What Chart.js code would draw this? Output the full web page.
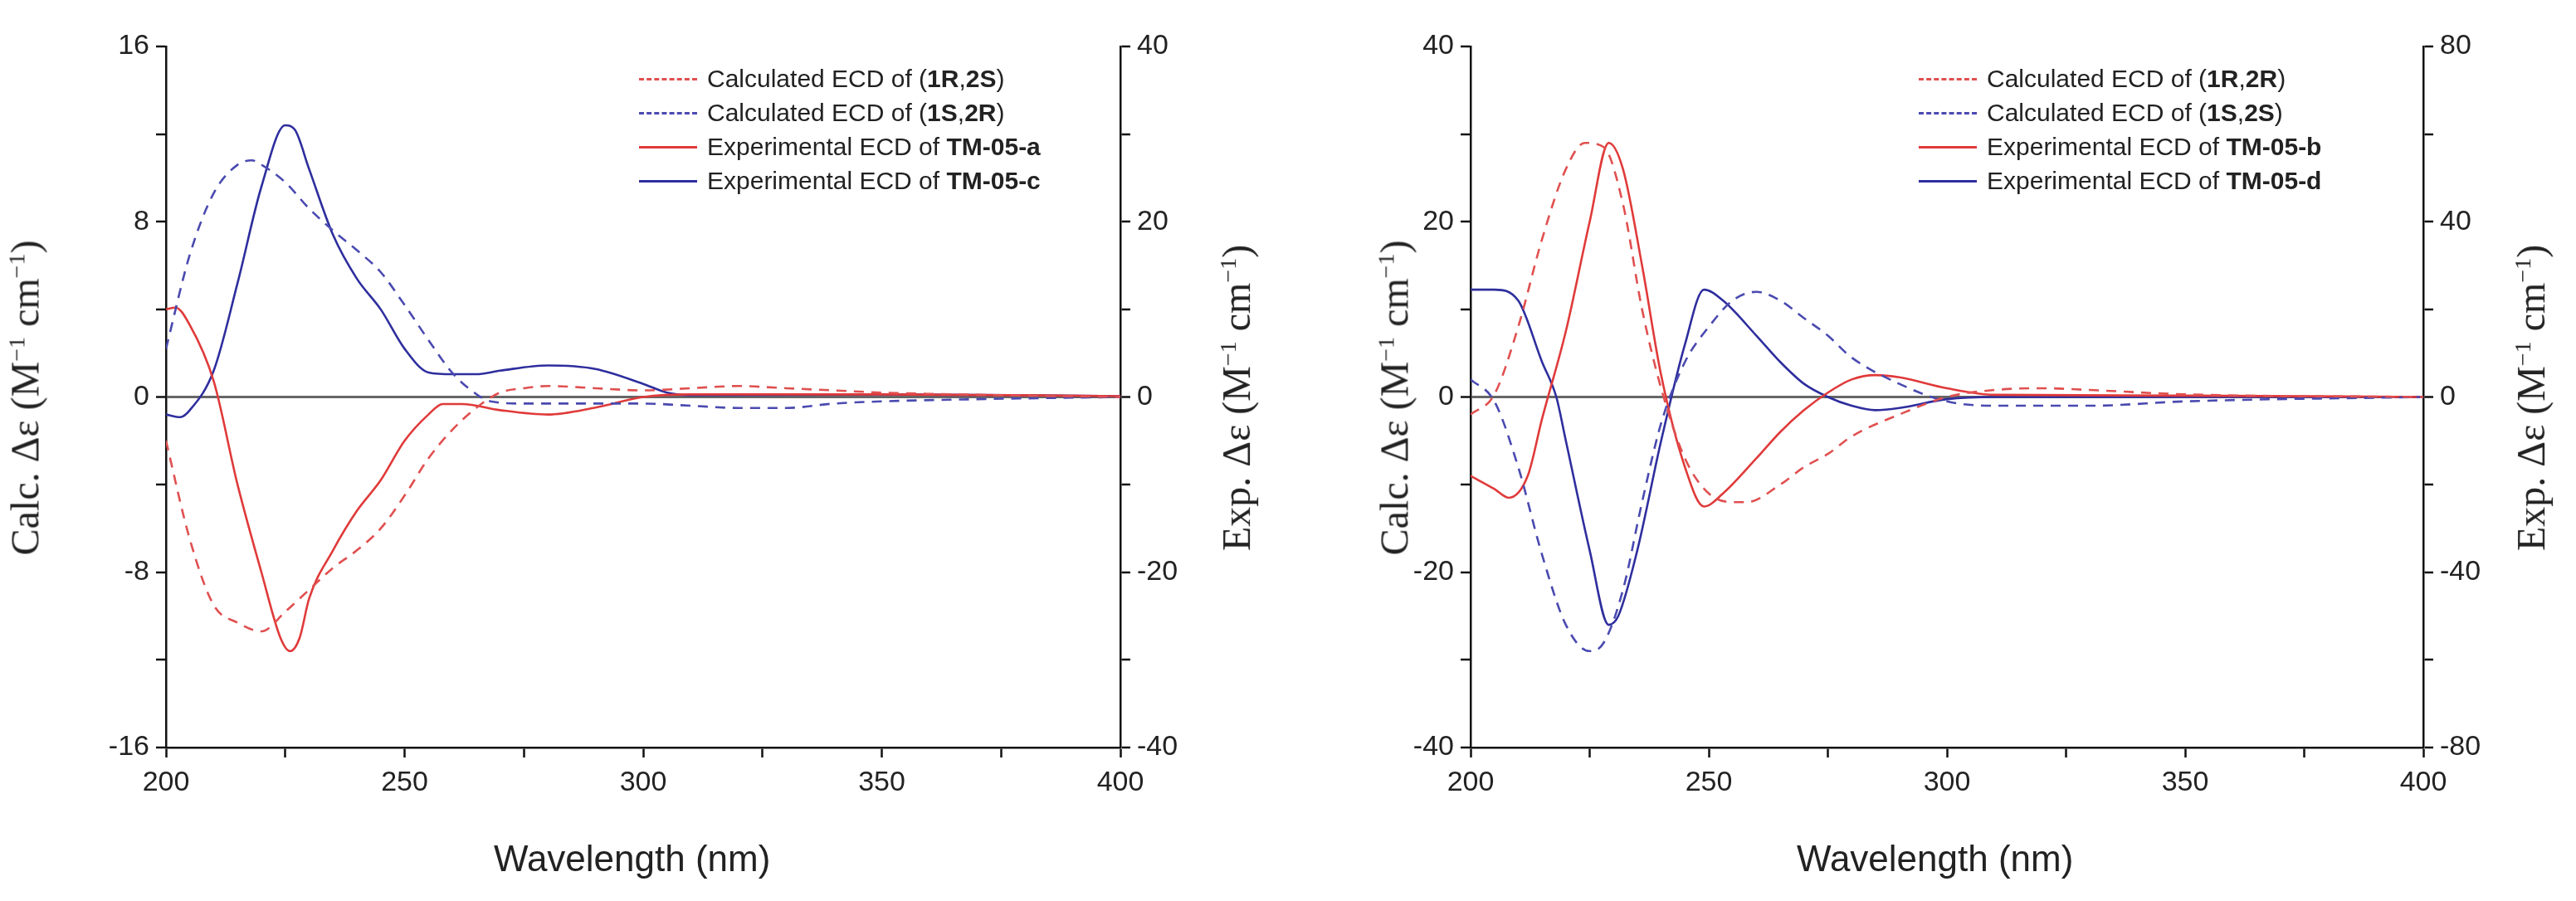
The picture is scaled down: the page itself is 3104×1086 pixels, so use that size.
<!DOCTYPE html>
<html><head><meta charset="utf-8">
<script src="https://cdn.jsdelivr.net/npm/chart.js@4/dist/chart.umd.min.js"></script>
<style>
body{margin:0;background:#fff;width:3104px;height:1086px;overflow:hidden;position:relative;font-family:"Liberation Sans Narrow","Liberation Sans",Arial,sans-serif}
.wrap{position:absolute;top:0;width:1552px;height:1086px}
.leg{position:absolute;font-size:30px;color:#222;line-height:41px}
.leg div{position:relative;padding-left:82px;white-space:nowrap}
.leg span.l{position:absolute;left:0;top:20px;width:70px;border-top:3px solid}
.yt{position:absolute;font-family:"Liberation Serif","DejaVu Serif",serif;font-size:48px;color:#222;white-space:nowrap;transform-origin:center}
.xt{position:absolute;font-size:44px;color:#222;font-family:"Liberation Sans",Arial,sans-serif}
</style></head><body>
<div class="wrap" style="left:0"><canvas id="c1"></canvas></div>
<div class="wrap" style="left:1552px"><canvas id="c2"></canvas></div>

<div class="leg" style="left:770px;top:74px">
<div><span class="l" style="border-top:3px dashed #e05050"></span>Calculated ECD of (<b>1R</b>,<b>2S</b>)</div>
<div><span class="l" style="border-top:3px dashed #4a4ab0"></span>Calculated ECD of (<b>1S</b>,<b>2R</b>)</div>
<div><span class="l" style="border-color:#e03a3a"></span>Experimental ECD of <b>TM-05-a</b></div>
<div><span class="l" style="border-color:#2e2e9e"></span>Experimental ECD of <b>TM-05-c</b></div>
</div>
<div class="leg" style="left:2312px;top:74px">
<div><span class="l" style="border-top:3px dashed #e05050"></span>Calculated ECD of (<b>1R</b>,<b>2R</b>)</div>
<div><span class="l" style="border-top:3px dashed #4a4ab0"></span>Calculated ECD of (<b>1S</b>,<b>2S</b>)</div>
<div><span class="l" style="border-color:#e03a3a"></span>Experimental ECD of <b>TM-05-b</b></div>
<div><span class="l" style="border-color:#2e2e9e"></span>Experimental ECD of <b>TM-05-d</b></div>
</div>

<div class="yt" style="left:-160px;top:452px;transform:rotate(-90deg)">Calc. Δε (M<sup style="font-size:28px">−1</sup> cm<sup style="font-size:28px">−1</sup>)</div>
<div class="yt" style="left:1305px;top:452px;transform:rotate(-90deg)">Exp. Δε (M<sup style="font-size:28px">−1</sup> cm<sup style="font-size:28px">−1</sup>)</div>
<div class="yt" style="left:1490px;top:452px;transform:rotate(-90deg)">Calc. Δε (M<sup style="font-size:28px">−1</sup> cm<sup style="font-size:28px">−1</sup>)</div>
<div class="yt" style="left:2865px;top:452px;transform:rotate(-90deg)">Exp. Δε (M<sup style="font-size:28px">−1</sup> cm<sup style="font-size:28px">−1</sup>)</div>
<div class="xt" style="left:595px;top:1010px">Wavelength (nm)</div>
<div class="xt" style="left:2165px;top:1010px">Wavelength (nm)</div>

<script>
// ---- Left chart data ----
const calcA_R2S = [[200,-2],[205,-6.5],[210,-9.5],[215,-10.3],[220,-10.7],[225,-9.8],[230,-8.8],[235,-7.8],[240,-7],[245,-6],[250,-4.5],[255,-2.8],[260,-1.5],[265,-0.5],[270,0.2],[275,0.4],[280,0.5],[290,0.4],[300,0.3],[310,0.4],[320,0.5],[330,0.4],[340,0.3],[350,0.2],[370,0.1],[400,0]];
const calcA_S2R = [[200,2.2],[205,6.5],[210,9.3],[215,10.6],[218,10.8],[220,10.6],[225,9.8],[230,8.6],[235,7.6],[240,6.7],[245,5.7],[250,4.2],[255,2.6],[260,1.1],[264,0.3],[268,-0.2],[275,-0.3],[280,-0.3],[290,-0.3],[300,-0.3],[310,-0.4],[320,-0.5],[330,-0.5],[340,-0.3],[350,-0.2],[370,-0.1],[400,0]];
const expA = [[200,10],[202,10.2],[205,8.2],[210,1.8],[215,-10],[220,-20],[224,-27.5],[226,-29],[228,-27.5],[230,-23],[235,-17.5],[240,-13],[245,-9.5],[250,-5],[255,-2],[258,-0.8],[262,-0.8],[270,-1.5],[280,-2],[290,-1.2],[300,0],[310,0.3],[350,0.3],[400,0.1]];
const expC = [[200,-2],[203,-2.3],[205,-1.5],[210,3],[215,13],[220,24],[225,31],[227,30.5],[230,26],[235,18.5],[240,13.5],[245,10],[250,5.5],[255,2.8],[260,2.6],[265,2.6],[270,3],[280,3.6],[290,3.2],[300,1.5],[305,0.5],[310,0.2],[350,0.3],[400,0.1]];
// ---- Right chart data ----
const calcB_R2R = [[200,-2],[205,0.3],[210,8],[215,18],[220,26],[224,29],[228,28.5],[232,22],[236,10],[240,1],[245,-7],[250,-11],[255,-12],[258,-12],[265,-10],[270,-8],[275,-6.5],[280,-4.5],[290,-2],[300,0],[310,0.8],[320,1],[330,0.8],[350,0.3],[400,0]];
const calcB_S2S = [[200,2],[205,-0.5],[210,-8],[215,-18],[220,-26],[225,-29],[228,-28],[232,-22],[236,-12],[240,-3],[245,4],[250,8],[255,11],[260,12],[265,11],[270,9],[275,7],[280,4.5],[290,1.5],[300,-0.5],[310,-1],[320,-1],[330,-1],[350,-0.5],[400,0]];
const expB = [[200,-18],[205,-21],[208,-23],[212,-18],[215,-5],[220,15],[225,40],[229,58],[232,52],[236,30],[240,5],[245,-16],[249,-25],[253,-22],[260,-14],[265,-8],[270,-3],[275,1],[280,4],[285,5],[290,4.5],[300,2],[310,0.5],[350,0.3],[400,0]];
const expD = [[200,24.5],[205,24.5],[210,22],[215,8],[218,0],[220,-10],[225,-35],[229,-52],[231,-50],[235,-35],[240,-10],[245,12],[249,24.5],[253,22],[260,14],[265,8],[270,3],[275,0],[280,-2],[285,-3],[290,-2.5],[300,-0.5],[310,0],[400,0]];
const xTicks = [200,250,300,350,400];
const leftTicksA = [-16,-8,0,8,16], rightTicksA = [-40,-20,0,20,40];
const leftTicksB = [-40,-20,0,20,40], rightTicksB = [-80,-40,0,40,80];

const RED='#e03a3a', RED_D='#e05050', BLUE='#2e2e9e', BLUE_D='#4a4ab0';
const pts = a => a.map(p=>({x:p[0],y:p[1]}));
function ds(d,color,dash,axis){return {data:pts(d),borderColor:color,borderWidth:2.6,borderDash:dash,pointRadius:0,cubicInterpolationMode:'monotone',yAxisID:axis,fill:false};}
const tickFont={family:'"Liberation Sans Narrow","Liberation Sans",Arial',size:34};
function yScale(pos,ticks,width,isMain){
  const step=(ticks[1]-ticks[0])/2;
  return {type:'linear',position:pos,min:ticks[0],max:ticks[ticks.length-1],
    afterBuildTicks:s=>{const t=[];for(let v=ticks[0];v<=ticks[ticks.length-1]+1e-9;v+=step)t.push({value:v});s.ticks=t;},
    afterFit:s=>{s.width=width;},
    border:{display:true,color:'#111',width:2.5},
    grid:{drawOnChartArea:isMain,color:c=>(isMain&&c.tick&&c.tick.value===0)?'#666':'rgba(0,0,0,0)',lineWidth:c=>(c.tick&&c.tick.value===0)?3:0,tickColor:'#111',tickLength:12,tickWidth:2.5},
    ticks:{color:'#222',font:tickFont,padding:8,callback:v=>ticks.includes(v)?String(v):''}};
}
function make(id,sets,lt,rt,rightW,leftW){
  new Chart(document.getElementById(id),{type:'line',data:{datasets:sets},
    options:{responsive:false,animation:false,devicePixelRatio:1,
      layout:{padding:{top:56,left:0,right:0,bottom:0}},
      plugins:{legend:{display:false},tooltip:{enabled:false}},
      scales:{
        x:{type:'linear',min:200,max:400,
          afterBuildTicks:s=>{const t=[];for(let v=200;v<=400;v+=25)t.push({value:v});s.ticks=t;},
          afterFit:s=>{s.height=185;},
          border:{color:'#111',width:2.5},
          grid:{drawOnChartArea:false,tickColor:'#111',tickLength:12,tickWidth:2.5},
          ticks:{color:'#222',font:tickFont,maxRotation:0,padding:10,callback:v=>xTicks.includes(v)?String(v):''}},
        y:yScale('left',lt,leftW,true),
        y2:yScale('right',rt,rightW,false)
      }}});
}
for(const id of ['c1','c2']){const c=document.getElementById(id);c.width=1552;c.height=1086;}
make('c1',[ds(calcA_R2S,RED_D,[12,9],'y'),ds(calcA_S2R,BLUE_D,[12,9],'y'),ds(expA,RED,[],'y2'),ds(expC,BLUE,[],'y2')],leftTicksA,rightTicksA,202,200);
make('c2',[ds(calcB_R2R,RED_D,[12,9],'y'),ds(calcB_S2S,BLUE_D,[12,9],'y'),ds(expB,RED,[],'y2'),ds(expD,BLUE,[],'y2')],leftTicksB,rightTicksB,184,220);
</script>
</body></html>
